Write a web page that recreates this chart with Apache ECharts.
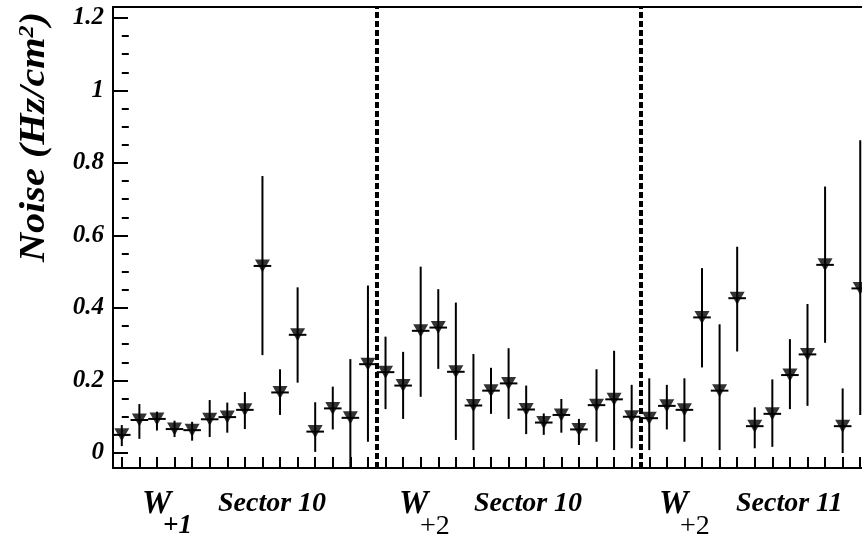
<!DOCTYPE html>
<html>
<head>
<meta charset="utf-8">
<script src="https://cdn.jsdelivr.net/npm/echarts@6/dist/echarts.min.js"></script>
<style>
  html, body { margin: 0; padding: 0; background: #fff; }
  #chart { width: 862px; height: 539px; }
</style>
</head>
<body>
<div id="chart"></div>
<script>
// Strip positions along the chamber readout
const strips = [0, 1, 2, 3, 4, 5, 6, 7, 8, 9, 10, 11, 12, 13, 14,
                15, 16, 17, 18, 19, 20, 21, 22, 23, 24, 25, 26, 27, 28, 29,
                30, 31, 32, 33, 34, 35, 36, 37, 38, 39, 40, 41, 42];

// Noise rate per strip (Hz/cm^2)
const noise = [0.050, 0.091, 0.094, 0.066, 0.063, 0.093, 0.099, 0.119, 0.516, 0.167,
               0.326, 0.059, 0.123, 0.097, 0.245,
               0.223, 0.186, 0.337, 0.346, 0.224, 0.131, 0.172, 0.192, 0.120, 0.084,
               0.105, 0.065, 0.132, 0.148, 0.100,
               0.096, 0.130, 0.119, 0.374, 0.172, 0.427, 0.074, 0.108, 0.215, 0.272,
               0.519, 0.074, 0.454];

// Upper / lower uncertainties
const errUp = [0.027, 0.044, 0.020, 0.023, 0.023, 0.053, 0.040, 0.049, 0.248, 0.064,
               0.131, 0.081, 0.060, 0.162, 0.217,
               0.098, 0.093, 0.177, 0.106, 0.191, 0.142, 0.063, 0.097, 0.066, 0.025,
               0.044, 0.029, 0.099, 0.134, 0.088,
               0.110, 0.058, 0.087, 0.136, 0.183, 0.142, 0.052, 0.095, 0.099, 0.139,
               0.216, 0.104, 0.409];
const errDown = [0.031, 0.052, 0.032, 0.022, 0.029, 0.049, 0.043, 0.053, 0.246, 0.062,
                 0.132, 0.056, 0.058, 0.162, 0.214,
                 0.102, 0.092, 0.182, 0.114, 0.188, 0.123, 0.064, 0.098, 0.068, 0.034,
                 0.049, 0.043, 0.101, 0.140, 0.087,
                 0.088, 0.065, 0.088, 0.138, 0.164, 0.147, 0.061, 0.091, 0.094, 0.142,
                 0.215, 0.074, 0.349];

// Boundaries between chamber / sector groups
const sectionEdges = [14.5, 29.5];

// Y axis ticks
const yTicks = [0, 0.2, 0.4, 0.6, 0.8, 1, 1.2];
const yTickLabels = ['0', '0.2', '0.4', '0.6', '0.8', '1', '1.2'];
const yMinorTicks = [0.05, 0.1, 0.15, 0.25, 0.3, 0.35, 0.45, 0.5, 0.55, 0.65, 0.7, 0.75,
                     0.85, 0.9, 0.95, 1.05, 1.1, 1.15];

// Group captions under the axis
const chamberNames = ['W', 'W', 'W'];
const chamberSubs = ['+1', '+2', '+2'];
const sectorNames = ['Sector 10', 'Sector 10', 'Sector 11'];

const Y_MIN = -0.0414, Y_MAX = 1.2303;
const X_MIN = -0.5, X_MAX = 42.1;
const SERIF = 'Liberation Serif, Times New Roman, serif';

const points = strips.map((s, i) => [s, noise[i]]);
const bars = strips.map((s, i) => [s, noise[i], noise[i] - errDown[i], noise[i] + errUp[i]]);

const chart = echarts.init(document.getElementById('chart'), null, { renderer: 'canvas' });

// Caption elements below the plot
const capX = [142, 399, 659];
const subX = [163, 420, 680];
const secX = [218, 474, 736];
const captions = [];
chamberNames.forEach((w, i) => {
  captions.push({
    type: 'text', left: capX[i], top: 488,
    style: { text: w, fontFamily: SERIF, fontSize: 33, fontWeight: 'bold', fontStyle: 'italic', fill: '#000' }
  });
  const italicSub = chamberSubs[i] === '+1';
  captions.push({
    type: 'text', left: subX[i], top: 513,
    style: { text: chamberSubs[i], fontFamily: SERIF, fontSize: italicSub ? 27 : 28,
             fontWeight: italicSub ? 'bold' : 'normal', fontStyle: italicSub ? 'italic' : 'normal', fill: '#000' }
  });
  captions.push({
    type: 'text', left: secX[i], top: 490,
    style: { text: sectorNames[i], fontFamily: SERIF, fontSize: 28, fontWeight: 'bold', fontStyle: 'italic', fill: '#000' }
  });
});

const option = {
  animation: false,
  backgroundColor: '#fff',
  grid: { left: 113, right: 0, top: 7, bottom: 71, containLabel: false },
  xAxis: [
    {
      type: 'value', position: 'bottom', min: X_MIN, max: X_MAX,
      axisLine: { show: true, onZero: false, lineStyle: { color: '#000', width: 2 } },
      axisTick: { show: true, inside: true, length: 11, customValues: strips,
                  lineStyle: { color: '#000', width: 2 } },
      axisLabel: { show: false },
      splitLine: { show: false }
    },
    {
      type: 'value', position: 'top', min: X_MIN, max: X_MAX,
      axisLine: { show: true, onZero: false, lineStyle: { color: '#000', width: 2 } },
      axisTick: { show: false }, axisLabel: { show: false }, splitLine: { show: false }
    }
  ],
  yAxis: [
    {
      type: 'value', position: 'left', min: Y_MIN, max: Y_MAX,
      axisLine: { show: true, onZero: false, lineStyle: { color: '#000', width: 2 } },
      axisTick: { show: true, inside: true, length: 15, customValues: yTicks,
                  lineStyle: { color: '#000', width: 2 } },
      axisLabel: {
        show: true, customValues: yTicks, margin: 9,
        formatter: v => yTickLabels[yTicks.findIndex(t => Math.abs(t - v) < 1e-6)],
        fontFamily: SERIF, fontSize: 25, fontWeight: 'bold', fontStyle: 'italic', color: '#000'
      },
      splitLine: { show: false }
    },
    {
      type: 'value', position: 'left', min: Y_MIN, max: Y_MAX,
      axisLine: { show: false },
      axisTick: { show: true, inside: true, length: 7, customValues: yMinorTicks,
                  lineStyle: { color: '#000', width: 2 } },
      axisLabel: { show: false }, splitLine: { show: false }
    }
  ],
  graphic: [
    {
      type: 'text', x: 35, y: 137, rotation: Math.PI / 2, scaleX: 1.15,
      style: {
        text: '{n|Noise (Hz/cm}{s|2}{n|)}',
        align: 'center', verticalAlign: 'middle',
        rich: {
          n: { fontFamily: SERIF, fontSize: 35, fontWeight: 'bold', fontStyle: 'italic', fill: '#000' },
          s: { fontFamily: SERIF, fontSize: 21, fontWeight: 'bold', fontStyle: 'italic', fill: '#000',
               verticalAlign: 'top' }
        }
      }
    }
  ].concat(captions),
  series: [
    {
      type: 'custom',
      xAxisIndex: 0, yAxisIndex: 0,
      clip: true,
      encode: { x: 0, y: 1 },
      data: bars,
      renderItem: function (params, api) {
        const x = api.value(0), v = api.value(1);
        const lo = Math.max(api.value(2), Y_MIN), hi = Math.min(api.value(3), Y_MAX);
        const top = api.coord([x, hi]), bot = api.coord([x, lo]);
        const l = api.coord([x - 0.5, v]), r = api.coord([x + 0.5, v]);
        const st = { stroke: '#000', lineWidth: 2 };
        return {
          type: 'group',
          children: [
            { type: 'line', shape: { x1: top[0], y1: top[1], x2: bot[0], y2: bot[1] }, style: st },
            { type: 'line', shape: { x1: l[0], y1: l[1], x2: r[0], y2: r[1] }, style: st }
          ]
        };
      },
      z: 2
    },
    {
      type: 'scatter',
      xAxisIndex: 0, yAxisIndex: 0,
      data: points,
      symbol: 'triangle', symbolRotate: 180, symbolSize: [15, 13],
      itemStyle: { color: '#000' },
      z: 3,
      markLine: {
        silent: true, symbol: 'none',
        label: { show: false },
        lineStyle: { color: '#000', type: [6, 3], width: 4 },
        data: sectionEdges.map(e => ({ xAxis: e }))
      }
    }
  ]
};

chart.setOption(option);
</script>
</body>
</html>
